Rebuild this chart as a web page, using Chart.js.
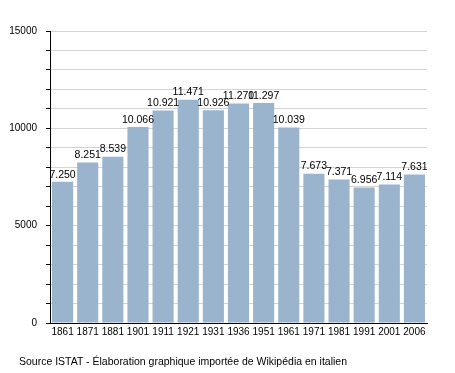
<!DOCTYPE html>
<html>
<head>
<meta charset="utf-8">
<script src="https://cdn.jsdelivr.net/npm/chart.js@4"></script>
<style>
  html, body { margin: 0; padding: 0; background: #fff; }
  #wrap { position: relative; width: 455px; height: 373px; }
  #source {
    position: absolute; left: 19px; top: 355px;
    font: 10.5px "Liberation Sans", Arial, sans-serif; color: #000;
  }
</style>
</head>
<body>
<div id="wrap">
  <canvas id="myChart" width="455" height="373"></canvas>
  <div id="source">Source ISTAT - Élaboration graphique importée de Wikipédia en italien</div>
</div>
<script>
// anni dei censimenti
const years = ["1861", "1871", "1881", "1901", "1911", "1921", "1931", "1936",
  "1951", "1961", "1971", "1981", "1991", "2001", "2006"];
// abitanti
const population = [7250, 8251, 8539, 10066, 10921, 11471, 10926, 11270,
  11297, 10039, 7673, 7371, 6956, 7114, 7631];
// etichette asse y
const yLabels = [0, 5000, 10000, 15000];

const FONT = "Liberation Sans";

// numeri col punto come separatore delle migliaia
const fmt = v => {
  const s = String(v);
  return s.length > 3 ? s.slice(0, -3) + "." + s.slice(-3) : s;
};

// etichette sopra le barre
const valueLabels = {
  id: "valueLabels",
  afterDatasetsDraw(chart) {
    const ctx = chart.ctx;
    const meta = chart.getDatasetMeta(0);
    ctx.save();
    ctx.font = "10.5px " + FONT;
    ctx.fillStyle = "#000";
    ctx.textAlign = "center";
    ctx.textBaseline = "bottom";
    meta.data.forEach((bar, i) => {
      ctx.fillText(fmt(population[i]), bar.x, bar.y - 2);
    });
    ctx.restore();
  }
};

const ctx = document.getElementById("myChart").getContext("2d");
new Chart(ctx, {
  type: "bar",
  data: {
    labels: years,
    datasets: [{
      data: population,
      backgroundColor: "rgb(155, 180, 206)",
      borderWidth: 0,
      barPercentage: 0.84,
      categoryPercentage: 1
    }]
  },
  options: {
    responsive: false,
    animation: false,
    layout: { padding: { left: 0, right: 28, top: 31, bottom: 30 } },
    plugins: {
      legend: { display: false },
      tooltip: { enabled: false }
    },
    scales: {
      x: {
        grid: { display: false, drawTicks: false },
        border: { color: "#000", width: 1 },
        ticks: {
          color: "#000",
          font: { family: FONT, size: 10 },
          padding: 3,
          maxRotation: 0,
          autoSkip: false
        },
        afterFit: s => { s.height = 20; }
      },
      y: {
        min: 0,
        max: 15000,
        grid: {
          color: "#d4d4d4",
          tickColor: "#000",
          tickLength: 4
        },
        border: { color: "#000", width: 1 },
        ticks: {
          stepSize: 1000,
          color: "#000",
          font: { family: FONT, size: 10 },
          padding: 9,
          callback: v => (yLabels.includes(v) ? String(v) : "")
        },
        afterFit: s => { s.width = 50; }
      }
    }
  },
  plugins: [valueLabels]
});
</script>
</body>
</html>
